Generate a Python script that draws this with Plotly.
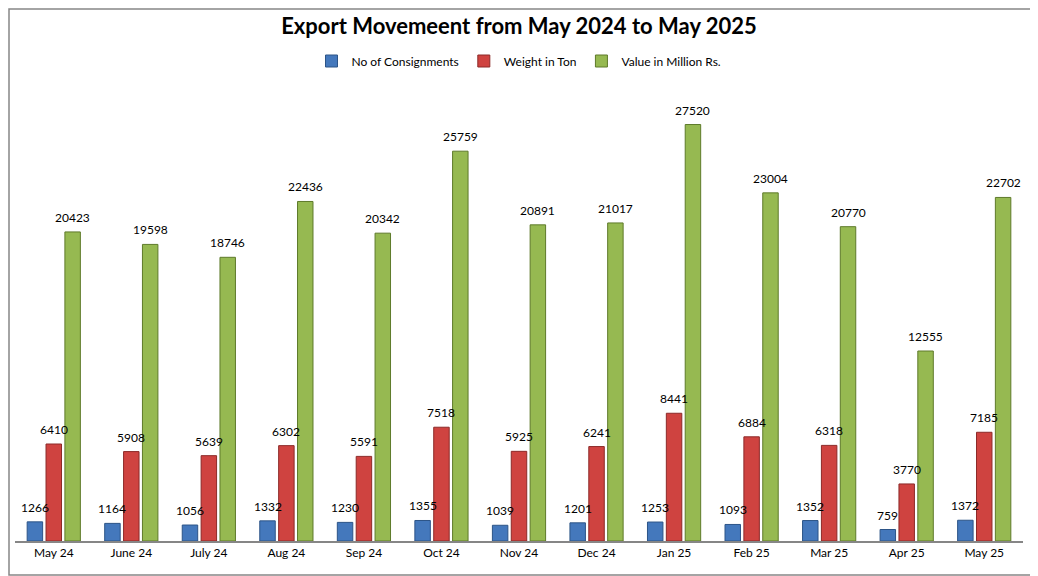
import plotly.graph_objects as go

months = ['May 24', 'June 24', 'July 24', 'Aug 24', 'Sep 24', 'Oct 24', 'Nov 24',
          'Dec 24', 'Jan 25', 'Feb 25', 'Mar 25', 'Apr 25', 'May 25']
consignments = [1266, 1164, 1056, 1332, 1230, 1355, 1039, 1201, 1253, 1093, 1352, 759, 1372]
weight_ton = [6410, 5908, 5639, 6302, 5591, 7518, 5925, 6241, 8441, 6884, 6318, 3770, 7185]
value_mrs = [20423, 19598, 18746, 22436, 20342, 25759, 20891, 21017, 27520, 23004, 20770, 12555, 22702]

series = [
    ('No of Consignments', consignments, '#4478BC', '#2C5487'),
    ('Weight in Ton', weight_ton, '#CF4340', '#8C2A28'),
    ('Value in Million Rs.', value_mrs, '#96B951', '#5E7A2A'),
]

# page body adds an 8px offset, so the figure is a little smaller than the window
W, H = 1030, 568
ml, mr, mt, mb = 7, 15, 79, 35
pw, ph = W - ml - mr, H - mt - mb
bargap, groupgap = 0.27, 0.18
slot = pw / len(months) * (1 - bargap) / len(series)

fig = go.Figure()
for i, (name, vals, col, edge) in enumerate(series):
    fig.add_trace(go.Bar(
        x=months, y=vals, name=name,
        marker=dict(color=col, line=dict(color=edge, width=1)),
    ))
    # value labels as annotations so they sit above neighbouring bars
    for m, v in zip(months, vals):
        fig.add_annotation(x=m, y=v, text=str(v), showarrow=False,
                           xshift=(i - 1) * slot, yanchor='bottom', yshift=5,
                           font=dict(size=12, color='black', family='Lato'))

fig.update_layout(
    width=W, height=H,
    margin=dict(l=ml, r=mr, t=mt, b=mb),
    paper_bgcolor='white', plot_bgcolor='white',
    font=dict(family='Lato', size=12, color='black'),
    title=dict(text='<b>Export Movemeent from May 2024 to May 2025</b>',
               x=(511 - ml) / pw, xanchor='center', y=1 - 18 / H, yanchor='middle',
               xref='paper', font=dict(size=22, family='Lato', color='black')),
    legend=dict(orientation='h', x=(511 - ml) / pw, xanchor='center',
                y=1 + (mt - 53) / ph, yanchor='middle',
                font=dict(size=12), itemwidth=30, traceorder='normal'),
    barmode='group', bargap=bargap, bargroupgap=groupgap,
    showlegend=True,
)
fig.update_xaxes(showline=True, linecolor='#868686', linewidth=1.5, ticks='',
                 tickfont=dict(size=12), showgrid=False)
fig.update_yaxes(range=[0, 30000], visible=False, showgrid=False)

# outer chart border
fig.add_shape(type='rect', xref='paper', yref='paper',
              x0=-(ml - 1) / pw, x1=1 + (mr - 1) / pw,
              y0=-(mb - 1) / ph, y1=1 + (mt - 1) / ph,
              line=dict(color='#868686', width=1.5), fillcolor='rgba(0,0,0,0)')

fig.write_html("out.html")
